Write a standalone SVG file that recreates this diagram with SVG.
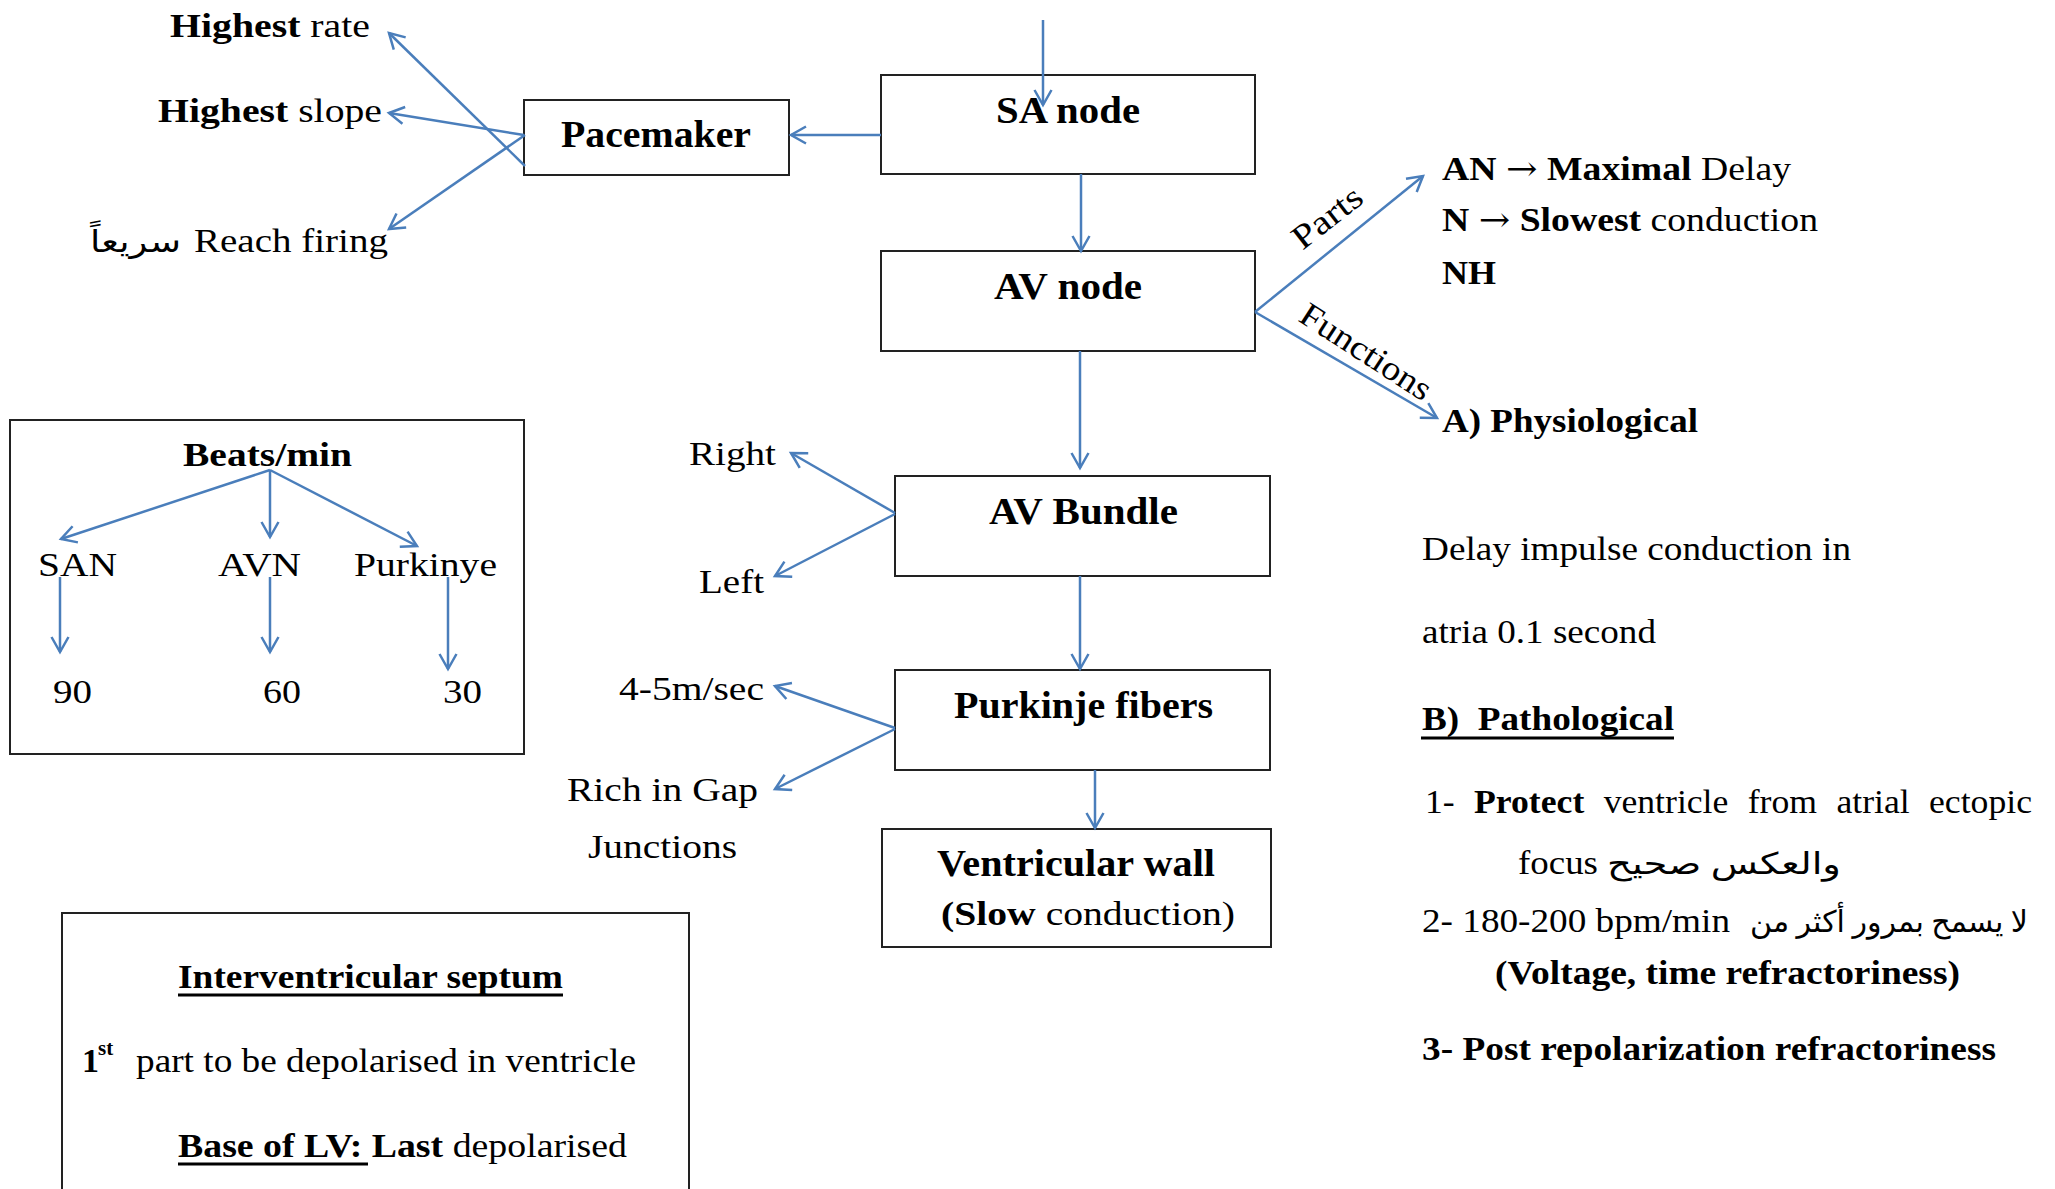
<svg xmlns="http://www.w3.org/2000/svg" width="2055" height="1189" viewBox="0 0 2055 1189">
  <style>
    .t { font-family: "Liberation Serif", "DejaVu Sans", serif; font-size: 34px; fill: #000; }
    .h { font-size: 37px; font-weight: bold; }
    .b { font-weight: bold; }
    .ar { font-size: 30px; }
    .arw { font-family: "DejaVu Serif", serif; }
    .box { fill: #fff; stroke: #222; stroke-width: 2; }
    .c { fill: none; stroke: #4a7ebb; stroke-width: 2.5; marker-end: url(#ah); }
    .ul { stroke: #000; stroke-width: 3; }
  </style>
  <defs>
    <marker id="ah" viewBox="0 0 20 20" refX="17" refY="10" markerWidth="20" markerHeight="20" markerUnits="userSpaceOnUse" orient="auto">
      <path d="M2,1.5 L17,10 L2,18.5" fill="none" stroke="#4a7ebb" stroke-width="2.5"/>
    </marker>
  </defs>
  <rect width="2055" height="1189" fill="#fff"/>

  <!-- conduction path boxes -->
  <g id="pacemaker">
    <rect class="box" x="524" y="100" width="265" height="75"/>
    <text class="t h" x="561" y="147" textLength="190" lengthAdjust="spacingAndGlyphs">Pacemaker</text>
  </g>
  <g id="sa-node">
    <rect class="box" x="881" y="75" width="374" height="99"/>
    <text class="t h" x="996" y="123" textLength="144" lengthAdjust="spacingAndGlyphs">SA node</text>
  </g>
  <g id="av-node">
    <rect class="box" x="881" y="251" width="374" height="100"/>
    <text class="t h" x="994" y="299" textLength="148" lengthAdjust="spacingAndGlyphs">AV node</text>
  </g>
  <g id="av-bundle">
    <rect class="box" x="895" y="476" width="375" height="100"/>
    <text class="t h" x="989" y="524" textLength="189" lengthAdjust="spacingAndGlyphs">AV Bundle</text>
  </g>
  <g id="purkinje-fibers">
    <rect class="box" x="895" y="670" width="375" height="100"/>
    <text class="t h" x="954" y="718" textLength="259" lengthAdjust="spacingAndGlyphs">Purkinje fibers</text>
  </g>
  <g id="ventricular-wall">
    <rect class="box" x="882" y="829" width="389" height="118"/>
    <text class="t h" x="937" y="876" textLength="278" lengthAdjust="spacingAndGlyphs">Ventricular wall</text>
    <text class="t" x="941" y="925" textLength="294" lengthAdjust="spacingAndGlyphs"><tspan class="b">(Slow</tspan> conduction)</text>
  </g>

  <!-- pacemaker properties -->
  <g id="highest-rate">
    <text class="t" x="170" y="37" textLength="200" lengthAdjust="spacingAndGlyphs"><tspan class="b">Highest</tspan> rate</text>
  </g>
  <g id="highest-slope">
    <text class="t" x="158" y="122" textLength="224" lengthAdjust="spacingAndGlyphs"><tspan class="b">Highest</tspan> slope</text>
  </g>
  <g id="reach-firing">
    <text class="t ar" x="90" y="252" textLength="91" lengthAdjust="spacingAndGlyphs">سريعاً</text>
    <text class="t" x="194" y="252" textLength="194" lengthAdjust="spacingAndGlyphs">Reach firing</text>
  </g>

  <!-- AV bundle branches -->
  <g id="right">
    <text class="t" x="689" y="465" textLength="87" lengthAdjust="spacingAndGlyphs">Right</text>
  </g>
  <g id="left">
    <text class="t" x="699" y="593" textLength="65" lengthAdjust="spacingAndGlyphs">Left</text>
  </g>

  <!-- Purkinje properties -->
  <g id="speed">
    <text class="t" x="619" y="700" textLength="145" lengthAdjust="spacingAndGlyphs">4-5m/sec</text>
  </g>
  <g id="gap-junctions">
    <text class="t" x="567" y="801" textLength="191" lengthAdjust="spacingAndGlyphs">Rich in Gap</text>
    <text class="t" x="588" y="858" textLength="149" lengthAdjust="spacingAndGlyphs">Junctions</text>
  </g>

  <!-- AV node parts -->
  <g id="av-parts">
    <text class="t" x="1442" y="180" textLength="349" lengthAdjust="spacingAndGlyphs"><tspan class="b">AN </tspan><tspan class="arw">→</tspan><tspan class="b"> Maximal</tspan> Delay</text>
    <text class="t" x="1442" y="231" textLength="376" lengthAdjust="spacingAndGlyphs"><tspan class="b">N </tspan><tspan class="arw">→</tspan><tspan class="b"> Slowest</tspan> conduction</text>
    <text class="t b" x="1442" y="284" textLength="54" lengthAdjust="spacingAndGlyphs">NH</text>
  </g>

  <!-- AV node functions -->
  <g id="av-functions">
    <text class="t b" x="1442" y="432" textLength="256" lengthAdjust="spacingAndGlyphs">A) Physiological</text>
    <text class="t" x="1422" y="560" textLength="429" lengthAdjust="spacingAndGlyphs">Delay impulse conduction in</text>
    <text class="t" x="1422" y="643" textLength="234" lengthAdjust="spacingAndGlyphs">atria 0.1 second</text>
    <text class="t b" x="1422" y="730" textLength="252" lengthAdjust="spacingAndGlyphs">B)&#160; Pathological</text>
    <line class="ul" x1="1421" y1="738" x2="1674" y2="738"/>
    <text class="t" x="1425" y="813" textLength="607" lengthAdjust="spacingAndGlyphs" word-spacing="10">1- <tspan class="b">Protect</tspan> ventricle from atrial ectopic</text>
    <text class="t" x="1518" y="874" textLength="80" lengthAdjust="spacingAndGlyphs">focus</text>
    <text class="t ar" x="1607" y="874" textLength="234" lengthAdjust="spacingAndGlyphs">والعكس صحيح</text>
    <text class="t" x="1422" y="932" textLength="308" lengthAdjust="spacingAndGlyphs">2- 180-200 bpm/min</text>
    <text class="t ar" x="1750" y="932" textLength="278" lengthAdjust="spacingAndGlyphs">لا يسمح بمرور أكثر من</text>
    <text class="t b" x="1495" y="984" textLength="465" lengthAdjust="spacingAndGlyphs">(Voltage, time refractoriness)</text>
    <text class="t b" x="1422" y="1060" textLength="574" lengthAdjust="spacingAndGlyphs">3- Post repolarization refractoriness</text>
  </g>

  <!-- intrinsic rates -->
  <g id="beats-per-min">
    <rect class="box" x="10" y="420" width="514" height="334"/>
    <text class="t b" x="183" y="466" textLength="169" lengthAdjust="spacingAndGlyphs">Beats/min</text>
    <text class="t" x="38" y="576" textLength="79" lengthAdjust="spacingAndGlyphs">SAN</text>
    <text class="t" x="218" y="576" textLength="83" lengthAdjust="spacingAndGlyphs">AVN</text>
    <text class="t" x="354" y="576" textLength="143" lengthAdjust="spacingAndGlyphs">Purkinye</text>
    <text class="t" x="53" y="703" textLength="39" lengthAdjust="spacingAndGlyphs">90</text>
    <text class="t" x="263" y="703" textLength="38" lengthAdjust="spacingAndGlyphs">60</text>
    <text class="t" x="443" y="703" textLength="39" lengthAdjust="spacingAndGlyphs">30</text>
  </g>

  <!-- septum note -->
  <g id="interventricular-septum">
    <rect class="box" x="62" y="913" width="627" height="300"/>
    <text class="t b" x="178" y="988" textLength="385" lengthAdjust="spacingAndGlyphs">Interventricular septum</text>
    <line class="ul" x1="178" y1="995" x2="563" y2="995"/>
    <text class="t b" x="82" y="1072">1</text>
    <text class="t b" x="98" y="1055" style="font-size:21px">st</text>
    <text class="t" x="136" y="1072" textLength="500" lengthAdjust="spacingAndGlyphs">part to be depolarised in ventricle</text>
    <text class="t" x="178" y="1157" textLength="449" lengthAdjust="spacingAndGlyphs"><tspan class="b">Base of LV: Last</tspan> depolarised</text>
    <line class="ul" x1="178" y1="1164" x2="368" y2="1164"/>
  </g>

  <!-- connectors -->
  <g id="connectors">
    <line class="c" x1="1043" y1="20" x2="1043" y2="105"/>
    <line class="c" x1="881" y1="135" x2="791" y2="135"/>
    <line class="c" x1="525" y1="166" x2="389" y2="33"/>
    <line class="c" x1="524" y1="135" x2="389" y2="113"/>
    <line class="c" x1="525" y1="135" x2="389" y2="229"/>
    <line class="c" x1="1081" y1="174" x2="1081" y2="251"/>
    <line class="c" x1="1080" y1="351" x2="1080" y2="468"/>
    <line class="c" x1="1255" y1="312" x2="1423" y2="176"/>
    <line class="c" x1="1255" y1="312" x2="1437" y2="418"/>
    <line class="c" x1="895" y1="513" x2="791" y2="453"/>
    <line class="c" x1="895" y1="514" x2="775" y2="576"/>
    <line class="c" x1="1080" y1="576" x2="1080" y2="669"/>
    <line class="c" x1="895" y1="728" x2="775" y2="686"/>
    <line class="c" x1="895" y1="729" x2="775" y2="789"/>
    <line class="c" x1="1095" y1="770" x2="1095" y2="828"/>
    <line class="c" x1="270" y1="470" x2="61" y2="539"/>
    <line class="c" x1="270" y1="470" x2="270" y2="537"/>
    <line class="c" x1="270" y1="470" x2="417" y2="546"/>
    <line class="c" x1="60" y1="577" x2="60" y2="652"/>
    <line class="c" x1="270" y1="577" x2="270" y2="652"/>
    <line class="c" x1="448" y1="577" x2="448" y2="669"/>
    <text class="t" x="0" y="0" textLength="80" lengthAdjust="spacingAndGlyphs" text-anchor="middle" transform="translate(1334,226) rotate(-38)">Parts</text>
    <text class="t" x="0" y="0" textLength="150" lengthAdjust="spacingAndGlyphs" text-anchor="middle" transform="translate(1360,361) rotate(33)">Functions</text>
  </g>
</svg>
